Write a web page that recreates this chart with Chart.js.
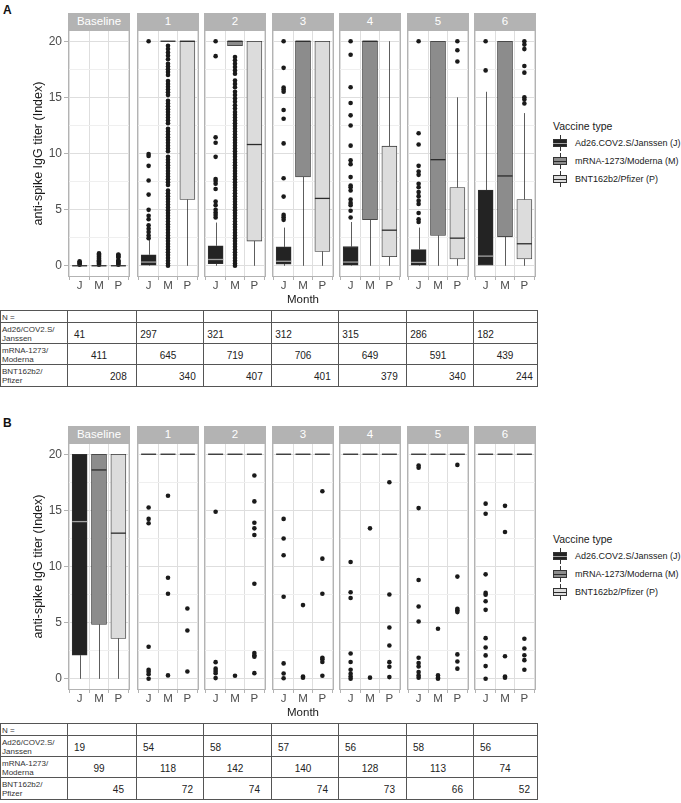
<!DOCTYPE html>
<html>
<head>
<meta charset="utf-8">
<script src="https://cdn.jsdelivr.net/npm/chart.js@4.4.0/dist/chart.umd.min.js"></script>
<style>
  body { margin: 0; background: #fff; font-family: "Liberation Sans", Arial, Helvetica, sans-serif; }
  #page { position: relative; width: 681px; height: 803px; overflow: hidden; }
  canvas { position: absolute; }
  .strip { position: absolute; height: 17px; background: #b3b3b3; color: #fff; font-size: 11.5px; line-height: 17px; text-align: center; }
  .tag { position: absolute; font-weight: bold; font-size: 12px; color: #111; }
  .lgTitle { position: absolute; font-size: 10.5px; color: #1a1a1a; white-space: nowrap; }
  .lgText { position: absolute; font-size: 9px; color: #1a1a1a; white-space: nowrap; line-height: 12px; }
  .cell { position: absolute; box-sizing: border-box; border-right: 1px solid #555; border-bottom: 1px solid #555; }
  .rowLabel { position: absolute; left: 2px; font-size: 8px; line-height: 9px; color: #333; }
  .num { position: absolute; font-size: 10px; color: #222; transform: translate(-50%, -50%); white-space: nowrap; }
</style>
</head>
<body>
<div id="page"></div>
<script>
const months = ['Baseline', '1', '2', '3', '4', '5', '6'];
const vaccines = ['J', 'M', 'P'];
const vaccineNames = ['Ad26.COV2.S/Janssen (J)', 'mRNA-1273/Moderna (M)', 'BNT162b2/Pfizer (P)'];
const yTicks = [0, 2.5, 5, 7.5, 10, 12.5, 15, 17.5, 20];
const rowNames = ['N =', 'Ad26/COV2.S/<br>Janssen', 'mRNA-1273/<br>Moderna', 'BNT162b2/<br>Pfizer'];

// box stats per month: [lower whisker, q1, median, q3, upper whisker]
const boxA_J = [[0,0,0,0,0],[0,0.05,0.33,0.98,2.3],[0,0.18,0.56,1.78,3.85],[0,0.15,0.4,1.68,3.4],[0,0.05,0.33,1.7,3.9],[0,0.05,0.3,1.45,3.4],[0,0,0.86,6.74,15.5]];
const boxA_M = [[0,0,0,0,0],[20,20,20,20,20],[19.6,19.6,20,20,20],[0,7.92,20,20,20],[0,4.1,20,20,20],[0,2.7,9.45,20,20],[0,2.58,8.0,20,20]];
const boxA_P = [[0,0,0,0,0],[0,5.9,20,20,20],[0,2.2,10.8,20,20],[0,1.28,6.0,20,20],[0,0.8,3.17,10.65,20],[0,0.6,2.46,6.97,15.0],[0,0.6,1.96,5.9,13.6]];

const outA_J = [
  [0.1,0.2,0.3,0.4],
  [20,9.95,9.78,8.9,7.6,6.34,4.98,4.45,4.15,3.6,3.3,3.0,2.7,2.45],
  [20,18.67,11.44,10.96,9.7,7.73,7.55,7.3,6.84,5.72,5.4,4.98,4.74,4.53,4.3],
  [20,17.63,15.88,15.7,15.5,13.87,13.1,10.9,7.8,6.16,4.53,4.33,4.09],
  [20,18.8,15.9,14.5,13.4,12.5,10.7,9.4,9.05,7.9,7.15,7.0,6.7,5.9,5.6,5.4,4.9,4.3],
  [20,11.8,10.8,8.9,8.4,8.1,7.3,7.0,6.56,6.2,5.8,5.5,4.7,4.15,3.9],
  [20,17.4]
];
const outA_M = [
  [0.1,0.2,0.3,0.4,0.5,0.6,0.7,0.8,0.9,1.0,1.1],
  [0,0.2,0.45,0.7,0.95,1.2,1.45,1.7,1.95,2.2,2.45,2.7,2.95,3.2,3.45,3.7,3.95,4.2,4.45,4.7,4.95,5.2,5.45,5.7,5.95,6.2,6.45,6.7,7.2,7.45,7.7,7.95,8.2,8.45,8.7,8.95,9.2,9.45,9.7,10.2,10.45,10.7,10.95,11.2,11.45,11.7,11.95,12.2,12.7,12.95,13.2,13.45,13.7,13.95,14.2,14.45,14.7,15.2,15.45,15.7,15.95,16.2,16.45,17.0,17.25,17.5,17.75,18.0,18.4,18.7,19.0,19.3,19.6],
  [0,0.2,0.45,0.7,0.95,1.2,1.45,1.7,1.95,2.2,2.45,2.7,2.95,3.2,3.45,3.7,3.95,4.2,4.45,4.7,4.95,5.2,5.45,5.7,5.95,6.2,6.45,6.7,6.95,7.2,7.45,7.7,7.95,8.2,8.45,8.7,8.95,9.2,9.45,9.7,9.95,10.2,10.45,10.7,10.95,11.2,11.45,11.7,11.95,12.2,12.45,12.7,12.95,13.2,13.45,13.7,14.0,14.3,14.6,14.9,15.2,15.5,15.9,16.2,16.5,17.1,17.4,17.7,18.0,18.3,18.6],
  [], [], [], []
];
const outA_P = [
  [0.1,0.2,0.3,0.4,0.5,0.75,0.85,0.95,1.0],
  [], [], [], [],
  [20,19.2,18.2],
  [20,19.7,19.3,17.8,17.2,15.0,14.8,14.45]
];

const boxB_J = [[0,2.1,14.0,20,20],[20,20,20,20,20],[20,20,20,20,20],[20,20,20,20,20],[20,20,20,20,20],[20,20,20,20,20],[20,20,20,20,20]];
const boxB_M = [[0,4.84,18.6,20,20],[20,20,20,20,20],[20,20,20,20,20],[20,20,20,20,20],[20,20,20,20,20],[20,20,20,20,20],[20,20,20,20,20]];
const boxB_P = [[0,3.6,12.97,20,20],[20,20,20,20,20],[20,20,20,20,20],[20,20,20,20,20],[20,20,20,20,20],[20,20,20,20,20],[20,20,20,20,20]];

const outB_J = [
  [],
  [15.25,14.24,13.85,2.85,0.8,0.62,0.4,0],
  [14.87,1.48,0.9,0.7,0.5,0.06],
  [14.24,12.5,11.0,7.3,1.37,0.47,0.05],
  [10.4,7.7,7.2,2.25,1.5,0.8,0.45,0.2,0],
  [18.99,18.8,15.2,8.8,6.44,5.1,1.87,1.4,1.1,0.6,0.3,0.1],
  [15.6,14.7,9.3,7.65,7.48,6.9,6.14,3.62,2.79,2.08,1.13,0]
];
const outB_M = [
  [],
  [16.3,9.0,7.57,0.3],
  [0.27],
  [6.56,0.2,0.1],
  [13.4,0.1],
  [4.45,0.3,0.1,0],
  [15.4,13.07,2.0,0.2,0.1]
];
const outB_P = [
  [],
  [6.26,4.3,0.65],
  [18.1,15.8,13.9,13.4,12.8,8.46,2.3,2.1,1.96,0.5],
  [16.7,10.7,7.57,1.87,1.75,1.5,0.27],
  [17.5,7.5,4.57,2.97,1.48,1.07,0.15],
  [19.05,9.1,6.23,6.1,5.94,2.17,1.54,0.9],
  [3.56,2.7,2.1,1.66,0.8]
];

const nA_J = [41, 297, 321, 312, 315, 286, 182];
const nA_M = [411, 645, 719, 706, 649, 591, 439];
const nA_P = [208, 340, 407, 401, 379, 340, 244];
const nB_J = [19, 54, 58, 57, 56, 58, 56];
const nB_M = [99, 118, 142, 140, 128, 113, 74];
const nB_P = [45, 72, 74, 74, 73, 66, 52];

// layout
const fills = ['#232323', '#8c8c8c', '#dcdcdc'];
const medianColors = ['#a3a3a3', '#2b2b2b', '#2b2b2b'];
const facetLeft = [68, 137, 204, 272, 339, 407, 474];
const facetW = 62;
const plotH = 247;
const catPos = [11.6, 31, 50.4]; // J/M/P centres inside a facet
const page = document.getElementById('page');

function el(tag, cls, css, html) {
  const d = document.createElement(tag);
  if (cls) d.className = cls;
  Object.assign(d.style, css || {});
  if (html !== undefined) d.innerHTML = html;
  page.appendChild(d);
  return d;
}

function boxPlugin(boxes) {
  return {
    id: 'boxExtras',
    beforeDatasetsDraw(chart) {
      const ctx = chart.ctx, y = chart.scales.y;
      const bars = chart.getDatasetMeta(0).data;
      ctx.save();
      ctx.strokeStyle = '#333';
      ctx.lineWidth = 0.8;
      boxes.forEach((b, k) => {
        const x = Math.round(bars[k].x) + 0.5;
        ctx.beginPath();
        ctx.moveTo(x, y.getPixelForValue(b[0]));
        ctx.lineTo(x, y.getPixelForValue(b[1]));
        ctx.moveTo(x, y.getPixelForValue(b[3]));
        ctx.lineTo(x, y.getPixelForValue(b[4]));
        ctx.stroke();
      });
      ctx.restore();
    },
    afterDatasetDraw(chart, args) {
      if (args.index !== 0) return;
      const ctx = chart.ctx, y = chart.scales.y;
      const bars = chart.getDatasetMeta(0).data;
      ctx.save();
      ctx.lineWidth = 1.3;
      boxes.forEach((b, k) => {
        const bar = bars[k];
        const yy = y.getPixelForValue(b[2]);
        ctx.strokeStyle = b[1] === b[3] ? '#2b2b2b' : medianColors[k];
        ctx.beginPath();
        ctx.moveTo(bar.x - bar.width / 2, yy);
        ctx.lineTo(bar.x + bar.width / 2, yy);
        ctx.stroke();
      });
      ctx.restore();
    },
    afterDraw(chart) {
      const {ctx, chartArea: a} = chart;
      ctx.save();
      ctx.strokeStyle = '#b3b3b3';
      ctx.lineWidth = 1;
      ctx.strokeRect(a.left + 0.5, a.top + 0.5, a.right - a.left - 1, a.bottom - a.top - 1);
      ctx.restore();
    }
  };
}

function facet(plotTop, i, boxes, outs) {
  const first = i === 0;
  const titled = i === 3;
  const xH = titled ? 32 : 18;
  const left = first ? 0 : facetLeft[i];
  const width = first ? facetLeft[0] + facetW : facetW;
  const cv = el('canvas', '', {left: left + 'px', top: plotTop + 'px'});
  cv.width = width;
  cv.height = plotH + xH;

  el('div', 'strip', {left: facetLeft[i] + 'px', top: (plotTop - 17) + 'px', width: facetW + 'px'}, months[i]);

  const major = c => c.tick && c.tick.value % 5 === 0;
  new Chart(cv, {
    type: 'bar',
    data: {
      datasets: [
        {
          type: 'bar',
          data: boxes.map((b, k) => ({x: k + 1, y: [b[1], b[3]]})),
          backgroundColor: fills,
          borderColor: '#333',
          borderWidth: 0.8,
          borderSkipped: false,
          barThickness: 15
        },
        {
          type: 'scatter',
          data: outs.flatMap((o, k) => o.map(v => ({x: k + 1, y: v}))),
          pointRadius: 2.3,
          pointBackgroundColor: '#1a1a1a',
          pointBorderWidth: 0
        }
      ]
    },
    options: {
      responsive: false,
      animation: false,
      events: [],
      layout: {padding: 0, autoPadding: false},
      plugins: {legend: {display: false}, tooltip: {enabled: false}},
      scales: {
        x: {
          type: 'linear', min: 0.4, max: 3.6, offset: false,
          afterBuildTicks: s => { s.ticks = vaccines.map((v, k) => ({value: k + 1})); },
          afterFit: s => { s.height = xH; s.paddingLeft = 0; s.paddingRight = 0; },
          ticks: {callback: (v, k) => vaccines[k], font: {size: 11.5}, color: '#4d4d4d', padding: -1, maxRotation: 0, autoSkip: false},
          grid: {color: '#dedede', lineWidth: 1, tickLength: 3, tickColor: '#b3b3b3'},
          border: {display: false},
          title: {display: titled, text: 'Month', font: {size: 11.5}, color: '#1a1a1a', padding: {top: 0, bottom: 2}}
        },
        y: {
          min: -1, max: 21,
          afterBuildTicks: s => { s.ticks = yTicks.map(v => ({value: v})); },
          afterFit: s => { s.width = first ? facetLeft[0] : 0; s.paddingTop = 0; s.paddingBottom = 0; },
          ticks: {display: first, callback: v => (v % 5 === 0 ? String(v) : ''), font: {size: 12}, color: '#4d4d4d', padding: 2, autoSkip: false},
          grid: {
            color: c => (major(c) ? '#dedede' : '#efefef'),
            lineWidth: 1, drawTicks: first, tickLength: 4,
            tickColor: c => (major(c) ? '#b3b3b3' : 'rgba(0,0,0,0)')
          },
          border: {display: false},
          title: {display: first, text: 'anti-spike IgG titer (Index)', font: {size: 12.5}, color: '#1a1a1a', padding: {top: 31, bottom: 0}}
        }
      }
    },
    plugins: [boxPlugin(boxes)]
  });
}

function legend(top) {
  el('div', 'lgTitle', {left: '553px', top: (top - 7) + 'px'}, 'Vaccine type');
  vaccineNames.forEach((name, k) => {
    const cy = top + 16 + k * 18;
    const key = el('div', '', {position: 'absolute', left: '553px', top: (cy - 8) + 'px', width: '14px', height: '16px'});
    const wh = document.createElement('div');
    Object.assign(wh.style, {position: 'absolute', left: '6.5px', top: '0', width: '1px', height: '16px', background: '#333'});
    const bx = document.createElement('div');
    Object.assign(bx.style, {position: 'absolute', left: '0', top: '4px', width: '14px', height: '8px', boxSizing: 'border-box', border: '1px solid #333', background: fills[k]});
    const md = document.createElement('div');
    Object.assign(md.style, {position: 'absolute', left: '0', top: '7.5px', width: '14px', height: '1.3px', background: medianColors[k]});
    key.append(wh, bx, md);
    el('div', 'lgText', {left: '575px', top: (cy - 6) + 'px'}, name);
  });
}

function nTable(top, nJ, nM, nP) {
  const bounds = [0].concat(facetLeft, [538]);
  const rowH = [12, 21, 21, 22];
  const rows = [null, nJ, nM, nP];
  el('div', '', {position: 'absolute', left: '0', top: top + 'px', width: '538px', height: '1px', background: '#555'});
  el('div', '', {position: 'absolute', left: '0', top: top + 'px', width: '1px', height: rowH.reduce((a, b) => a + b, 0) + 'px', background: '#555'});
  let y = top;
  rowH.forEach((h, r) => {
    for (let c = 0; c < bounds.length - 1; c++) {
      el('div', 'cell', {left: bounds[c] + 'px', top: y + 'px', width: (bounds[c + 1] - bounds[c]) + 'px', height: (h + 1) + 'px'});
    }
    el('div', 'rowLabel', {top: (y + h / 2 + 1) + 'px', transform: 'translateY(-50%)'}, rowNames[r]);
    if (rows[r]) {
      rows[r].forEach((n, c) => {
        el('div', 'num', {left: (facetLeft[c] + catPos[r - 1]) + 'px', top: (y + h / 2 + 1) + 'px'}, String(n));
      });
    }
    y += h;
  });
}

function panel(tag, plotTop, bJ, bM, bP, oJ, oM, oP, nJ, nM, nP) {
  el('div', 'tag', {left: '3px', top: (plotTop - 27) + 'px'}, tag);
  months.forEach((m, i) => facet(plotTop, i, [bJ[i], bM[i], bP[i]], [oJ[i], oM[i], oP[i]]));
  legend(plotTop + 97);
  nTable(plotTop + 280, nJ, nM, nP);
}

panel('A', 30, boxA_J, boxA_M, boxA_P, outA_J, outA_M, outA_P, nA_J, nA_M, nA_P);
panel('B', 443, boxB_J, boxB_M, boxB_P, outB_J, outB_M, outB_P, nB_J, nB_M, nB_P);
</script>
</body>
</html>
